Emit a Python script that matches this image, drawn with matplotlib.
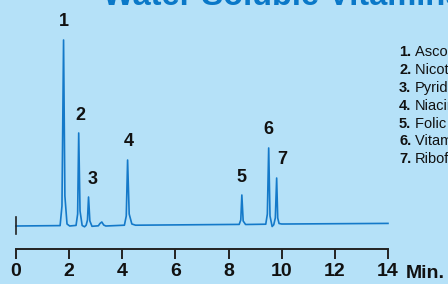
import matplotlib
matplotlib.use("Agg")
import matplotlib.pyplot as plt

plt.rcParams["font.family"] = ["Liberation Sans", "DejaVu Sans"]

# chromatogram trace (time in min, signal in detector units)
time_min = [0.00, 1.66, 1.73, 1.79, 1.84, 1.92, 2.02,
            2.26, 2.32, 2.36, 2.41, 2.49, 2.58,
            2.64, 2.69, 2.73, 2.78, 2.86, 3.10, 3.16, 3.23, 3.30, 3.38,
            4.08, 4.15, 4.20, 4.26, 4.36, 4.50,
            8.40, 8.46, 8.50, 8.55, 8.64,
            9.40, 9.46, 9.51, 9.56, 9.64, 9.70, 9.76, 9.81, 9.85, 9.90, 10.00, 10.15,
            14.00]
signal = [0.0, 0.4, 20.0, 186.0, 30.0, 2.0, 0.0,
          0.6, 12.0, 93.0, 15.0, 0.5, -0.8,
          0.8, 6.0, 29.0, 5.0, -0.3, 0.2, 2.5, 4.0, 1.0, 0.0,
          0.8, 10.0, 66.0, 12.0, 2.0, 0.8,
          1.6, 6.0, 31.0, 5.0, 1.5,
          1.8, 12.0, 78.0, 10.0, -0.5, 1.2, 8.0, 48.0, 8.0, 2.5, 2.0, 2.0,
          2.6]

peak_ids = ["1", "2", "3", "4", "5", "6", "7"]
peak_rt = [1.79, 2.36, 2.73, 4.20, 8.50, 9.51, 9.85]
peak_height = [186.0, 93.0, 29.0, 66.0, 31.0, 78.0, 48.0]

compounds = ["Ascorbic Acid", "Nicotinic Acid", "Pyridoxine", "Niacinamide",
             "Folic Acid", "Vitamin B12", "Riboflavin"]

x_ticks = [0, 2, 4, 6, 8, 10, 12, 14]

BG = "#b5e1f8"
BLUE = "#1479c9"

fig = plt.figure(figsize=(4.48, 2.84), dpi=100, facecolor=BG)
ax = fig.add_axes([0, 0, 1, 1], facecolor=BG)

px = 26.57  # pixels per minute
ax.set_xlim(-16 / px, (448 - 16) / px)
ax.set_ylim(-58, 226)

ax.plot(time_min, signal, color=BLUE, lw=1.2, solid_joinstyle="round")
ax.plot([0, 0], [9, -8], color="#222222", lw=1.2)

# peak numbers above each apex
label_dx = [0.0, 0.05, 0.15, 0.05, 0.0, 0.0, 0.16]
for pid, rt, h, dx in zip(peak_ids, peak_rt, peak_height, label_dx):
    ax.text(rt + dx, h + 18, pid, ha="center", va="center",
            fontsize=13, fontweight="bold", color="#111111")

# time axis
for s in ["top", "left", "right"]:
    ax.spines[s].set_visible(False)
ax.spines["bottom"].set_position(("data", -23))
ax.spines["bottom"].set_bounds(0, 14)
ax.spines["bottom"].set_linewidth(1.4)
ax.spines["bottom"].set_color("#222222")
ax.set_xticks(x_ticks)
ax.set_xticklabels([str(t) for t in x_ticks])
ax.tick_params(axis="x", direction="out", length=7, width=1.4, color="#222222",
               pad=3, labelsize=14)
for lab in ax.get_xticklabels():
    lab.set_fontweight("bold")
    lab.set_color("#111111")
ax.set_yticks([])
ax.text((406 - 16) / px, -47, "Min.", ha="left", va="center",
        fontsize=14, fontweight="bold", color="#111111")

# title (cut off by the top edge)
fig.text(103 / 448, 1 - 5 / 284, "Water Soluble Vitamins", ha="left", va="baseline",
         fontsize=23.5, fontweight="bold", color="#0a78c8")

# compound list
for i, (pid, name) in enumerate(zip(peak_ids, compounds)):
    y = 1 - (52.5 + i * 17.8) / 284
    fig.text(399 / 448, y, pid + ".", ha="left", va="center",
             fontsize=10.5, fontweight="bold", color="#111111")
    fig.text(415 / 448, y, name, ha="left", va="center",
             fontsize=10.5, color="#111111")

fig.savefig("out.png", dpi=100, facecolor=BG)
